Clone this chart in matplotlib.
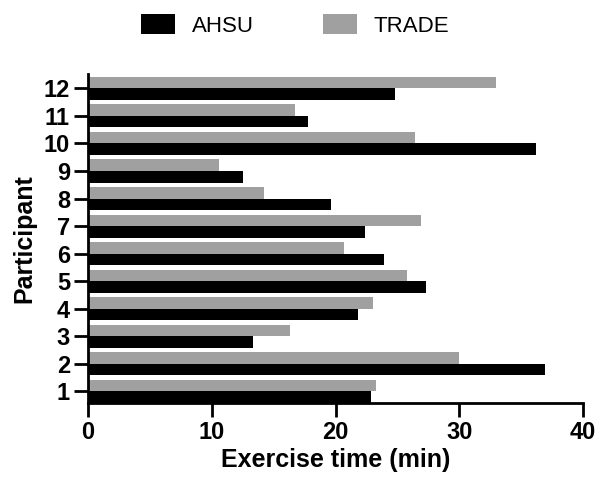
import numpy as np
import matplotlib
matplotlib.use("Agg")
from matplotlib import pyplot as plt

participants = list(range(1, 13))
ahsu = [22.9, 36.9, 13.3, 21.8, 27.3, 23.9, 22.4, 19.6, 12.5, 36.2, 17.8, 24.8]
trade = [23.3, 30.0, 16.3, 23.0, 25.8, 20.7, 26.9, 14.2, 10.6, 26.4, 16.7, 33.0]

plt.rcParams['font.family'] = ['Liberation Sans', 'DejaVu Sans']

fig = plt.figure(figsize=(5.96, 4.84), dpi=100)
ax = fig.add_axes([0.1477, 0.1674, 0.8305, 0.6797])

y = np.array(participants)
h = 0.42
ax.barh(y - h / 2, ahsu, height=h, color='black', label='AHSU')
ax.barh(y + h / 2, trade, height=h, color='#a0a0a0', label='TRADE')

ax.set_xlim(0, 40)
ax.set_ylim(1 - h, 12 + h + 0.1)
ax.set_xticks([0, 10, 20, 30, 40])
ax.set_yticks(participants)

for s in ['top', 'right']:
    ax.spines[s].set_visible(False)
for s in ['left', 'bottom']:
    ax.spines[s].set_linewidth(2)

ax.tick_params(axis='both', width=2, length=10, labelsize=17, pad=3)
for lab in ax.get_xticklabels() + ax.get_yticklabels():
    lab.set_fontweight('bold')

ax.set_xlabel('Exercise time (min)', fontsize=18, fontweight='bold', labelpad=3)
ax.set_ylabel('Participant', fontsize=18, fontweight='bold', labelpad=5)

fig.legend(loc='center', bbox_to_anchor=(0.495, 0.948), ncol=2, frameon=False,
           fontsize=16, handlelength=1.55, handleheight=1.05, handletextpad=0.75,
           columnspacing=3.1)

fig.savefig('out.png', dpi=100)
